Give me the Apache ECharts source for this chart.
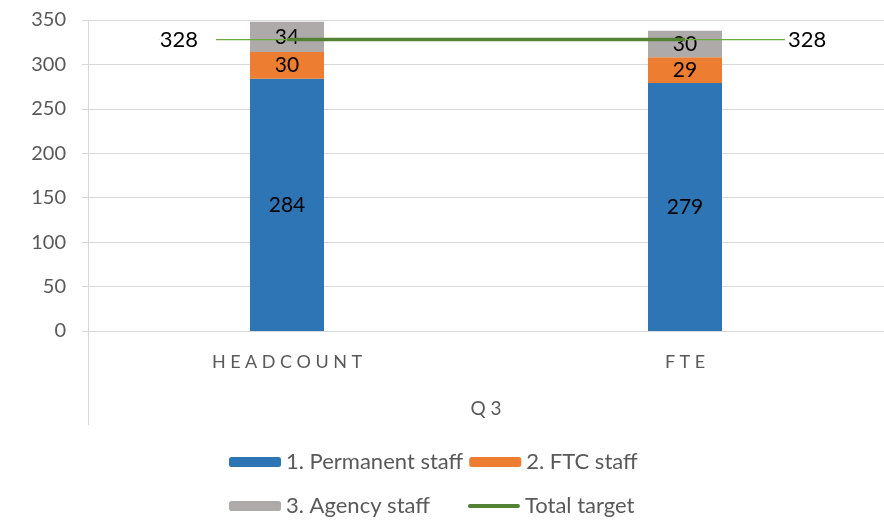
<!DOCTYPE html>
<html>
<head>
<meta charset="utf-8">
<script src="https://cdn.jsdelivr.net/npm/echarts@6/dist/echarts.min.js"></script>
<style>
html, body { margin: 0; padding: 0; background: #fff; }
#chart { width: 884px; height: 527px; }
</style>
</head>
<body>
<div id="chart"></div>
<script>
var categories = ['HEADCOUNT', 'FTE'];
var groupLabel = ['Q3'];
var permanent = [284, 279];
var ftc = [30, 29];
var agency = [34, 30];
var target = [328, 328];

var font = 'Lato, "Open Sans", sans-serif';
var spaced = function (s) { return s.split('').join('\u2005'); };
var guide = { show: true, lineStyle: { color: '#6AAA3F', width: 1.3, opacity: 1 } };

var chart = echarts.init(document.getElementById('chart'));
chart.setOption({
    animation: false,
    textStyle: { fontFamily: font },
    grid: { left: 88, right: 0, top: 20, bottom: 196 },
    legend: [
        {
            data: ['1. Permanent staff', '2. FTC staff'],
            left: 224, top: 446,
            itemWidth: 52, itemHeight: 10, itemGap: 6,
            textStyle: { fontSize: 22, color: '#595959', fontFamily: font }
        },
        {
            data: ['3. Agency staff', {
                name: 'Total target',
                icon: 'path://M2,0 L50,0 A2,2 0 0 1 50,4 L2,4 A2,2 0 0 1 2,0 Z'
            }],
            left: 224, top: 490,
            itemWidth: 52, itemHeight: 10, itemGap: 38,
            textStyle: { fontSize: 22, color: '#595959', fontFamily: font }
        }
    ],
    xAxis: [
        {
            type: 'category',
            data: categories,
            axisLine: { lineStyle: { color: '#d9d9d9', width: 1 } },
            axisTick: { show: false },
            axisLabel: {
                formatter: spaced,
                fontSize: 18, color: '#595959', margin: 22
            }
        },
        {
            type: 'category',
            data: groupLabel,
            position: 'bottom',
            axisLine: { show: false },
            axisTick: { show: true, length: 94, lineStyle: { color: '#d9d9d9' } },
            axisLabel: { formatter: spaced, fontSize: 19, color: '#595959', margin: 68 }
        }
    ],
    yAxis: {
        type: 'value',
        min: 0, max: 350, interval: 50,
        axisLine: { show: true, lineStyle: { color: '#d9d9d9' } },
        axisTick: { show: true, length: 6, lineStyle: { color: '#d9d9d9' } },
        splitLine: { lineStyle: { color: '#d9d9d9' } },
        axisLabel: { fontSize: 20, color: '#595959', margin: 22 }
    },
    series: [
        {
            name: '1. Permanent staff', type: 'bar', stack: 'staff', barWidth: 74,
            data: permanent,
            itemStyle: { color: '#2E75B6' },
            label: { show: true, position: 'inside', color: '#000', fontSize: 21 }
        },
        {
            name: '2. FTC staff', type: 'bar', stack: 'staff', barWidth: 74,
            data: ftc,
            itemStyle: { color: '#ED7D31' },
            label: { show: true, position: 'inside', color: '#000', fontSize: 21 }
        },
        {
            name: '3. Agency staff', type: 'bar', stack: 'staff', barWidth: 74,
            data: agency,
            itemStyle: { color: '#AEAAAA' },
            label: { show: true, position: 'inside', color: '#000', fontSize: 21 }
        },
        {
            name: 'Total target', type: 'line',
            data: target.map(function (v, i) {
                return {
                    value: v,
                    label: i === 0
                        ? { position: 'left', padding: [2, 18, 2, 0] }
                        : { position: 'right', padding: [2, 0, 2, 3] },
                    labelLine: guide
                };
            }),
            symbol: 'circle',
            symbolSize: 0,
            showSymbol: true,
            z: 5,
            lineStyle: { color: '#548235', width: 3.5 },
            itemStyle: { color: '#548235' },
            label: {
                show: true, color: '#000', fontSize: 22, distance: 0,
                backgroundColor: '#fff'
            },
            labelLine: guide,
            labelLayout: function (p) {
                return { dx: p.dataIndex === 0 ? -71 : 100 };
            }
        }
    ]
});
</script>
</body>
</html>
